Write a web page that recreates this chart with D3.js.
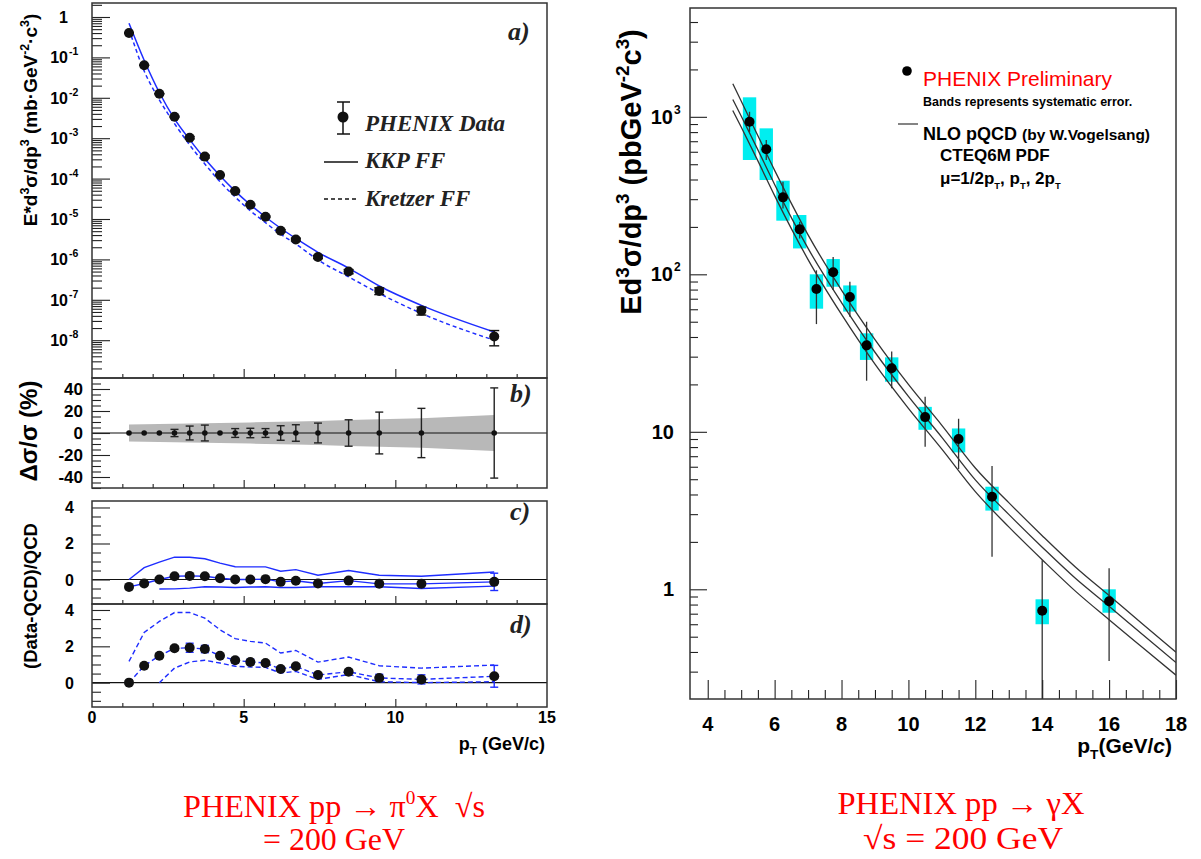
<!DOCTYPE html>
<html><head><meta charset="utf-8">
<script src="https://cdn.jsdelivr.net/npm/d3@7"></script>
<style>
body{margin:0;background:#fff}
svg{display:block}
</style>
</head><body>
<svg id="c" width="1201" height="859" font-family='"Liberation Sans",Arial,Helvetica,sans-serif'></svg>
<script>
// ---------------- DATA (left: pi0) ----------------
const pi0Pt = [1.22,1.72,2.22,2.72,3.22,3.72,4.22,4.72,5.22,5.72,6.22,6.72,7.45,8.46,9.47,10.86,13.26];
const pi0Xsec = [0.40,0.064,0.0126,3.4e-3,1.03e-3,3.5e-4,1.23e-4,4.9e-5,2.25e-5,1.14e-5,5.1e-6,3.1e-6,1.15e-6,5.0e-7,1.66e-7,5.4e-8,1.23e-8];
const kkpCurve = [0.70,0.085,0.0135,3.0e-3,9.2e-4,3.1e-4,1.18e-4,4.9e-5,2.25e-5,1.12e-5,5.9e-6,3.3e-6,1.5e-6,6.1e-7,2.2e-7,7.3e-8,1.6e-8];
const kretzerCurve = [0.50,0.046,8.9e-3,2.3e-3,6.8e-4,2.3e-4,8.4e-5,3.5e-5,1.6e-5,8.1e-6,4.2e-6,2.4e-6,9.7e-7,3.7e-7,1.44e-7,4.6e-8,1.0e-8];
const statPct = [1,1,1,3.3,6.3,7.2,1,4,4.3,4,6.6,7.5,9,12,19,22.4,41];
const devPct = [0,0,0,0,0,0,0,0,0,0,0,0,0,0,0,0,0];
const sysPct = [7.8,8,8.2,8.4,8.6,8.8,9,9.3,9.6,9.9,10.2,10.5,11,11.8,12.6,13.3,16.4];
const kkpRatio = [-0.41,-0.22,0.0,0.18,0.2,0.18,0.07,0.0,0.0,0.02,-0.13,-0.07,-0.22,-0.06,-0.24,-0.24,-0.13];
const kkpErr = [0.04,0.04,0.04,0.05,0.05,0.05,0.04,0.04,0.04,0.04,0.12,0.1,0.1,0.06,0.1,0.1,0.48];
const kkpUpper = [0.0,0.66,0.97,1.24,1.24,1.15,0.91,0.71,0.70,0.70,0.46,0.55,0.24,0.5,0.24,0.18,0.42];
const kkpLower = [null,null,-0.53,-0.52,-0.48,-0.40,-0.42,-0.44,-0.42,-0.40,-0.44,-0.44,-0.40,-0.40,-0.40,-0.50,-0.37];
const kretRatio = [0.0,0.93,1.48,1.89,1.92,1.85,1.48,1.23,1.14,1.08,0.75,0.90,0.42,0.6,0.26,0.18,0.35];
const kretErr = [0.05,0.08,0.1,0.12,0.25,0.2,0.1,0.15,0.15,0.1,0.12,0.12,0.1,0.1,0.2,0.25,0.6];
const kretUpper = [1.17,2.76,3.37,3.86,3.86,3.55,2.91,2.42,2.27,2.18,1.63,1.77,1.13,1.41,0.93,0.8,0.97];
const kretLower = [null,null,0.0,0.8,1.14,1.23,1.08,0.9,0.86,0.84,0.53,0.62,0.18,0.45,0.05,0.0,0.05];
const xTicksLeft = [0,5,10,15];
const yTicksB = [-40,-20,0,20,40];
const yTicksCD = [0,2,4];

// ---------------- DATA (right: direct photon) ----------------
const gammaPt = [5.25,5.75,6.25,6.75,7.25,7.75,8.25,8.75,9.5,10.5,11.5,12.5,14,16];
const gammaXsec = [931,622,308,193,80.7,103,71.8,35.4,25.3,12.4,9.0,3.87,0.73,0.84];
const gammaStatLo = [803,532,262,169,48.3,79.4,53.8,21.1,18.9,8.03,5.8,1.61,0.1,0.35];
const gammaStatHi = [1077,713,387,216,106,129,89.7,50,32.3,16.7,12.1,6.07,1.53,1.36];
const gammaSysLo = [532,397,219,146,60.5,83.4,58,28.6,20.8,10.3,7.4,3.16,0.6,0.71];
const gammaSysHi = [1330,845,393,238,100,125,85,42.2,29.7,14.4,10.5,4.48,0.864,1.0];
const nloPt = [4.75,5,5.5,6,6.5,7,8,9,10,11,12,13,14,15,16,17,18];
const nloHalfPt = [1622,1259,759,457,282,178,79.4,38.5,20.0,11.0,5.89,3.55,2.19,1.38,0.912,0.603,0.398];
const nloPtScale = [1288,1012,617,372,229,146,66.1,32.0,16.8,9.23,4.95,2.99,1.85,1.17,0.78,0.516,0.343];
const nloTwoPt = [1096,861,525,316,195,124,55.6,26.9,14.1,7.76,4.17,2.49,1.54,0.97,0.641,0.427,0.285];
const xTicksRight = [4,6,8,10,12,14,16,18];
const sysHalfWidthPt = 0.2;

// ---------------- SETUP ----------------
const svg = d3.select('#c');
svg.append('rect').attr('width',1201).attr('height',859).attr('fill','#fff');
const BLUE = '#1e2dff';
const INK = '#111';
const SERIF = '"Liberation Serif","Times New Roman",serif';
const NB = '\u00a0';

function rich(t, parts, size){
  let cur = 0;
  parts.forEach(p=>{
    const k = (typeof p === 'string') ? {t:p} : p;
    const shift = k.sup ? -0.42*size : (k.sub ? 0.28*size : 0);
    const ts = t.append('tspan').text(k.t).attr('dy', shift-cur);
    if (k.sup || k.sub) ts.attr('font-size', (k.scale||0.65)*size);
    if (k.italic) ts.attr('font-style','italic');
    cur = shift;
  });
  return t;
}
function innerTicks(axisFn, scale, vals, len, tx, ty){
  const ax = axisFn(scale).tickValues(vals).tickSize(-len).tickFormat('');
  const g = svg.append('g').attr('transform',`translate(${tx},${ty})`).call(ax);
  g.select('.domain').remove();
  g.selectAll('line').attr('stroke','#222').attr('stroke-width',1.1);
  g.selectAll('text').remove();
  return g;
}
function frame(x0,y0,x1,y1){
  svg.append('rect').attr('x',x0).attr('y',y0).attr('width',x1-x0).attr('height',y1-y0)
    .attr('fill','none').attr('stroke','#333').attr('stroke-width',1.5);
}

// ---------------- LEFT SCALES ----------------
const xL = d3.scaleLinear().domain([0,15]).range([92,547]);
const yA = d3.scaleLog().domain([1.16e-9,2.22]).range([378,3]);
const yB = d3.scaleLinear().domain([-50,50]).range([488,378]);
const yC = d3.scaleLinear().domain([-1.36,4.36]).range([604,501]);
const yD = d3.scaleLinear().domain([-1.34,4.33]).range([707,604]);

const defs = svg.append('defs');
defs.append('clipPath').attr('id','clipA').append('rect').attr('x',92).attr('y',3).attr('width',455).attr('height',375);
defs.append('clipPath').attr('id','clipR').append('rect').attr('x',690).attr('y',8).attr('width',486).attr('height',691);

// ---------- Panel a ----------
const gA = svg.append('g').attr('clip-path','url(#clipA)');
const lineA = d3.line().x((d,i)=>xL(pi0Pt[i])).y(d=>yA(d)).curve(d3.curveMonotoneX);
gA.append('path').attr('d',lineA(kkpCurve)).attr('fill','none').attr('stroke',BLUE).attr('stroke-width',1.5);
gA.append('path').attr('d',lineA(kretzerCurve)).attr('fill','none').attr('stroke',BLUE).attr('stroke-width',1.5).attr('stroke-dasharray','4,3');
pi0Pt.forEach((pt,i)=>{
  const x = xL(pt), lo = yA(pi0Xsec[i]*(1-statPct[i]/100)), hi = yA(pi0Xsec[i]*(1+statPct[i]/100));
  gA.append('line').attr('x1',x).attr('x2',x).attr('y1',lo).attr('y2',hi).attr('stroke',INK).attr('stroke-width',1.4);
  [lo,hi].forEach(y=>gA.append('line').attr('x1',x-5).attr('x2',x+5).attr('y1',y).attr('y2',y).attr('stroke',INK).attr('stroke-width',1.4));
  gA.append('circle').attr('cx',x).attr('cy',yA(pi0Xsec[i])).attr('r',5).attr('fill',INK);
});
const majA = d3.range(-8,1).map(e=>Math.pow(10,e));
const minA = [];
for (let e=-9;e<=0;e++) for (let m=2;m<=9;m++){ const v=m*Math.pow(10,e); if (v>1.16e-9 && v<2.22) minA.push(v); }
innerTicks(d3.axisLeft, yA, majA, 18, 92, 0);
innerTicks(d3.axisLeft, yA, minA, 10, 92, 0);
const minX = d3.range(1,15).filter(v=>v%5!==0);
innerTicks(d3.axisBottom, xL, [5,10], 9, 0, 378);
innerTicks(d3.axisBottom, xL, minX, 4, 0, 378);
d3.range(-8,1).forEach(e=>{
  const y = yA(Math.pow(10,e));
  if (e===0){
    svg.append('text').attr('x',68).attr('y',y+6).attr('text-anchor','end').attr('font-size',16).attr('font-weight','bold').text('1');
  } else {
    svg.append('text').attr('x',68).attr('y',y+6).attr('text-anchor','end').attr('font-size',16).attr('font-weight','bold').text('10');
    svg.append('text').attr('x',69).attr('y',y-2).attr('font-size',10.5).attr('font-weight','bold').text(String(e));
  }
});
rich(svg.append('text').attr('transform','translate(37,120) rotate(-90)').attr('text-anchor','middle')
  .attr('font-size',19).attr('font-weight','bold'),
  ['E*d',{t:'3',sup:1},'σ/dp',{t:'3',sup:1},' (mb·GeV',{t:'-2',sup:1},'·c',{t:'3',sup:1},')'],19);
// legend a
svg.append('line').attr('x1',343).attr('x2',343).attr('y1',102).attr('y2',134).attr('stroke',INK).attr('stroke-width',1.5);
[102,134].forEach(y=>svg.append('line').attr('x1',337).attr('x2',350).attr('y1',y).attr('y2',y).attr('stroke',INK).attr('stroke-width',1.5));
svg.append('circle').attr('cx',343).attr('cy',117).attr('r',5.5).attr('fill',INK);
svg.append('line').attr('x1',324).attr('x2',358).attr('y1',162).attr('y2',162).attr('stroke',INK).attr('stroke-width',1.3);
svg.append('line').attr('x1',324).attr('x2',358).attr('y1',199).attr('y2',199).attr('stroke',INK).attr('stroke-width',1.3).attr('stroke-dasharray','4,3');
[['PHENIX Data',131],['KKP FF',168],['Kretzer FF',206]].forEach(([t,y])=>{
  svg.append('text').attr('x',365).attr('y',y).style('font-family',SERIF).attr('font-style','italic')
    .attr('font-weight','bold').attr('font-size',23).attr('fill','#222').text(t);
});

// ---------- Panel b ----------
const gB = svg.append('g');
const areaB = d3.area().x((d,i)=>xL(pi0Pt[i])).y0(d=>yB(-d)).y1(d=>yB(d));
gB.append('path').attr('d',areaB(sysPct)).attr('fill','#b8b8b8');
gB.append('line').attr('x1',92).attr('x2',547).attr('y1',yB(0)).attr('y2',yB(0)).attr('stroke',INK).attr('stroke-width',1.2);
pi0Pt.forEach((pt,i)=>{
  const x = xL(pt);
  if (statPct[i] > 2){
    const lo = yB(devPct[i]-statPct[i]), hi = yB(devPct[i]+statPct[i]);
    gB.append('line').attr('x1',x).attr('x2',x).attr('y1',lo).attr('y2',hi).attr('stroke','#222').attr('stroke-width',1.4);
    [lo,hi].forEach(y=>gB.append('line').attr('x1',x-4).attr('x2',x+4).attr('y1',y).attr('y2',y).attr('stroke','#222').attr('stroke-width',1.4));
  }
  gB.append('circle').attr('cx',x).attr('cy',yB(devPct[i])).attr('r',2.8).attr('fill',INK);
});
innerTicks(d3.axisLeft, yB, yTicksB, 18, 92, 0);
innerTicks(d3.axisLeft, yB, d3.range(-50,50,5).filter(v=>v%20!==0), 9, 92, 0);
innerTicks(d3.axisBottom, xL, [5,10], 8, 0, 488);
innerTicks(d3.axisBottom, xL, minX, 4, 0, 488);
yTicksB.forEach(v=>svg.append('text').attr('x',83).attr('y',yB(v)+6).attr('text-anchor','end')
  .attr('font-size',17).attr('font-weight','bold').text(v));
svg.append('text').attr('transform','translate(37,431) rotate(-90)').attr('text-anchor','middle')
  .attr('font-size',24).attr('font-weight','bold').text('Δσ/σ (%)');

// ---------- Panels c, d ----------
function ratioPanel(yS, ratio, err, upper, lower, dash){
  const g = svg.append('g');
  g.append('line').attr('x1',92).attr('x2',547).attr('y1',yS(0)).attr('y2',yS(0)).attr('stroke',INK).attr('stroke-width',1.2);
  const ln = d3.line().defined(d=>d!==null).x((d,i)=>xL(pi0Pt[i])).y(d=>yS(d));
  [upper, lower, ratio].forEach(arr=>{
    const p = g.append('path').attr('d',ln(arr)).attr('fill','none').attr('stroke',BLUE).attr('stroke-width',1.4);
    if (dash) p.attr('stroke-dasharray','5,3');
  });
  pi0Pt.forEach((pt,i)=>{
    const x = xL(pt), lo = yS(ratio[i]-err[i]), hi = yS(ratio[i]+err[i]);
    const col = (i===pi0Pt.length-1 || (dash && err[i]>=0.15)) ? BLUE : INK;
    g.append('line').attr('x1',x).attr('x2',x).attr('y1',lo).attr('y2',hi).attr('stroke',col).attr('stroke-width',1.4);
    [lo,hi].forEach(y=>g.append('line').attr('x1',x-4).attr('x2',x+4).attr('y1',y).attr('y2',y).attr('stroke',col).attr('stroke-width',1.4));
    g.append('circle').attr('cx',x).attr('cy',yS(ratio[i])).attr('r',5).attr('fill',INK);
  });
}
ratioPanel(yC, kkpRatio, kkpErr, kkpUpper, kkpLower, false);
ratioPanel(yD, kretRatio, kretErr, kretUpper, kretLower, true);
const minCD = [-1,-0.5,0.5,1,1.5,2.5,3,3.5];
[[yC,604],[yD,707]].forEach(([yS,bot])=>{
  innerTicks(d3.axisLeft, yS, yTicksCD, 18, 92, 0);
  innerTicks(d3.axisLeft, yS, minCD, 9, 92, 0);
  innerTicks(d3.axisBottom, xL, [5,10], 8, 0, bot);
  innerTicks(d3.axisBottom, xL, minX, 4, 0, bot);
  yTicksCD.forEach(v=>svg.append('text').attr('x',74).attr('y',yS(v)+6).attr('text-anchor','end')
    .attr('font-size',16).attr('font-weight','bold').text(v));
});
xTicksLeft.forEach(v=>svg.append('text').attr('x',xL(v)).attr('y',723).attr('text-anchor','middle')
  .attr('font-size',16).attr('font-weight','bold').text(v));
rich(svg.append('text').attr('x',545).attr('y',750).attr('text-anchor','end').attr('font-size',18).attr('font-weight','bold'),
  ['p',{t:'T',sub:1},' (GeV/c)'],18);
svg.append('text').attr('transform','translate(37,596) rotate(-90)').attr('text-anchor','middle')
  .attr('font-size',18.5).attr('font-weight','bold').text('(Data-QCD)/QCD');

frame(92,3,547,378); frame(92,378,547,488); frame(92,501,547,604); frame(92,604,547,707);
[['a)',508,40],['b)',510,402],['c)',510,520],['d)',510,633]].forEach(([t,x,y])=>{
  svg.append('text').attr('x',x).attr('y',y).style('font-family',SERIF).attr('font-style','italic')
    .attr('font-weight','bold').attr('font-size',26).attr('fill','#222').text(t);
});

// ---------------- RIGHT PANEL ----------------
const xR = d3.scaleLinear().domain([3.47,18]).range([690,1176]);
const yR = d3.scaleLog().domain([0.2011,4909]).range([699,8]);
const gR = svg.append('g').attr('clip-path','url(#clipR)');
gammaPt.forEach((pt,i)=>{
  gR.append('rect').attr('x',xR(pt-sysHalfWidthPt)).attr('width',xR(pt+sysHalfWidthPt)-xR(pt-sysHalfWidthPt))
    .attr('y',yR(gammaSysHi[i])).attr('height',yR(gammaSysLo[i])-yR(gammaSysHi[i])).attr('fill','#00eef0');
});
const lineR = d3.line().x((d,i)=>xR(nloPt[i])).y(d=>yR(d)).curve(d3.curveMonotoneX);
[nloHalfPt,nloPtScale,nloTwoPt].forEach(arr=>{
  gR.append('path').attr('d',lineR(arr)).attr('fill','none').attr('stroke','#333').attr('stroke-width',1.3);
});
gammaPt.forEach((pt,i)=>{
  const x = xR(pt);
  gR.append('line').attr('x1',x).attr('x2',x).attr('y1',yR(gammaStatLo[i])).attr('y2',yR(gammaStatHi[i]))
    .attr('stroke','#333').attr('stroke-width',1.3);
  gR.append('circle').attr('cx',x).attr('cy',yR(gammaXsec[i])).attr('r',5).attr('fill','#000');
});
const majR = [1,10,100,1000];
const minR = [];
for (let e=-1;e<=3;e++) for (let m=2;m<=9;m++){ const v=m*Math.pow(10,e); if (v>0.2011 && v<4909) minR.push(v); }
innerTicks(d3.axisLeft, yR, majR, 17, 690, 0);
innerTicks(d3.axisLeft, yR, minR, 8, 690, 0);
innerTicks(d3.axisBottom, xR, xTicksRight, 19, 0, 699);
innerTicks(d3.axisBottom, xR, d3.range(4.5,18,1), 9, 0, 699);
innerTicks(d3.axisBottom, xR, [5,7,9,11,13,15,17], 9, 0, 699);
frame(690,8,1176,699);
majR.forEach((v,i)=>{
  const y = yR(v);
  if (i<2){
    svg.append('text').attr('x',674).attr('y',y+7).attr('text-anchor','end').attr('font-size',20).attr('font-weight','bold').text(v);
  } else {
    svg.append('text').attr('x',673).attr('y',y+7).attr('text-anchor','end').attr('font-size',20).attr('font-weight','bold').text('10');
    svg.append('text').attr('x',674).attr('y',y-3).attr('font-size',12).attr('font-weight','bold').text(String(i));
  }
});
xTicksRight.forEach(v=>svg.append('text').attr('x',xR(v)).attr('y',731).attr('text-anchor','middle')
  .attr('font-size',20).attr('font-weight','bold').text(v));
rich(svg.append('text').attr('x',1172).attr('y',753).attr('text-anchor','end').attr('font-size',21).attr('font-weight','bold'),
  ['p',{t:'T',sub:1},'(GeV/',{t:'c',italic:1},')'],21);
rich(svg.append('text').attr('transform','translate(641,172) rotate(-90)').attr('text-anchor','middle')
  .attr('font-size',29).attr('font-weight','bold'),
  ['Ed',{t:'3',sup:1},'σ/dp',{t:'3',sup:1},' (pbGeV',{t:'-2',sup:1},'c',{t:'3',sup:1},')'],29);
// legend right
svg.append('circle').attr('cx',907).attr('cy',71).attr('r',4.8).attr('fill','#000');
svg.append('text').attr('x',923).attr('y',86).attr('font-size',21).attr('fill','#ff0000').text('PHENIX Preliminary');
svg.append('text').attr('x',923).attr('y',106).attr('font-size',12.5).attr('font-weight','bold').text('Bands represents systematic error.');
svg.append('line').attr('x1',898).attr('x2',918).attr('y1',124).attr('y2',124).attr('stroke','#666').attr('stroke-width',1.6);
const nlo = svg.append('text').attr('x',923).attr('y',140).attr('font-weight','bold').attr('font-size',18);
nlo.append('tspan').text('NLO pQCD ');
nlo.append('tspan').attr('font-size',15.5).text('(by W.Vogelsang)');
svg.append('text').attr('x',940).attr('y',161).attr('font-weight','bold').attr('font-size',17).text('CTEQ6M PDF');
rich(svg.append('text').attr('x',940).attr('y',184).attr('font-weight','bold').attr('font-size',17),
  ['μ=1/2p',{t:'T',sub:1,scale:0.55},', p',{t:'T',sub:1,scale:0.55},', 2p',{t:'T',sub:1,scale:0.55}],17);

// ---------------- CAPTIONS ----------------
function caption(x,y,parts,len){
  const t = svg.append('text').attr('x',x).attr('y',y).attr('text-anchor','middle').style('font-family',SERIF)
    .attr('font-size',32).attr('fill','#ff0000');
  rich(t, parts, 32);
  if (len) t.attr('textLength',len).attr('lengthAdjust','spacingAndGlyphs');
}
caption(334,817,['PHENIX pp → π',{t:'0',sup:1,scale:0.6},'X'+NB+NB+'√s'],302);
caption(334,850,['= 200 GeV'],142);
caption(961,814,['PHENIX pp → γX'],247);
caption(963,849,['√s = 200 GeV'],200);
</script>
</body></html>
